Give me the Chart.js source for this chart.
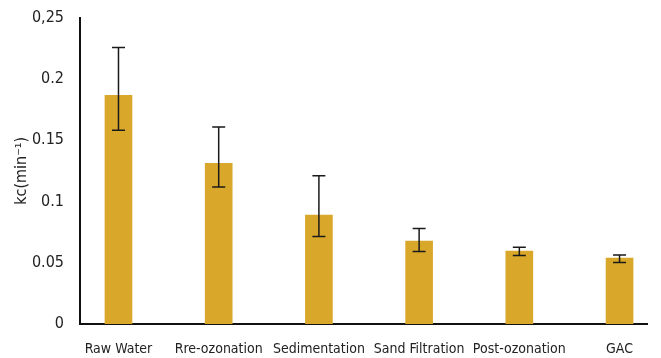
<!DOCTYPE html>
<html>
  <head>
    <meta charset="utf-8">
    <title>kc by treatment step</title>
    <script src="https://cdn.jsdelivr.net/npm/chart.js"></script>
    <style>
      html, body { margin: 0; padding: 0; background: #fff; }
      #wrap { width: 661px; height: 358px; }
    </style>
  </head>
  <body>
    <div id="wrap"><canvas id="myChart"></canvas></div>
    <script>
      // valores
      const steps = ['Raw Water', 'Rre-ozonation', 'Sedimentation', 'Sand Filtration', 'Post-ozonation', 'GAC'];
      const kc = [0.1865, 0.131, 0.0888, 0.0676, 0.0594, 0.0537];
      const errHigh = [0.2256, 0.1607, 0.121, 0.0779, 0.0627, 0.0564];
      const errLow = [0.158, 0.1118, 0.0714, 0.0592, 0.0559, 0.0502];
      const yTicks = [0, 0.05, 0.1, 0.15, 0.2, 0.25];
      const yTickLabels = ['0', '0.05', '0.1', '0.15', '0.2', '0,25'];

      const font = "'Liberation Sans Narrow', 'DejaVu Sans Condensed', sans-serif";

      // barras de erro desenhadas com as escalas do gráfico
      const errorBars = {
        id: 'errorBars',
        afterDatasetsDraw(chart) {
          const { ctx, scales: { x, y } } = chart;
          ctx.save();
          ctx.strokeStyle = '#1a1a1a';
          ctx.lineWidth = 1.5;
          steps.forEach((s, i) => {
            const px = x.getPixelForValue(i);
            const top = y.getPixelForValue(errHigh[i]);
            const bot = y.getPixelForValue(errLow[i]);
            ctx.beginPath();
            ctx.moveTo(px, top); ctx.lineTo(px, bot);
            ctx.moveTo(px - 6.5, top); ctx.lineTo(px + 6.5, top);
            ctx.moveTo(px - 6.5, bot); ctx.lineTo(px + 6.5, bot);
            ctx.stroke();
          });
          ctx.restore();
        }
      };

      const ctx = document.getElementById('myChart').getContext('2d');
      new Chart(ctx, {
        type: 'bar',
        data: {
          datasets: [{
            data: kc.map((v, i) => ({ x: i, y: v })),
            backgroundColor: '#D9A82A',
            barThickness: 27
          }]
        },
        plugins: [errorBars],
        options: {
          responsive: true,
          maintainAspectRatio: false,
          animation: false,
          layout: { padding: { top: 17, right: 14, left: 0, bottom: 0 } },
          plugins: { legend: { display: false }, tooltip: { enabled: false } },
          scales: {
            x: {
              type: 'linear',
              offset: false,
              min: -0.384,
              max: 5.274,
              afterBuildTicks: (scale) => { scale.ticks = steps.map((s, i) => ({ value: i })); },
              afterFit: (scale) => { scale.height = 34; },
              grid: { display: false },
              border: { display: true, color: '#111', width: 2 },
              ticks: {
                autoSkip: false,
                maxRotation: 0,
                padding: 9,
                color: '#222',
                font: { family: font, size: 14 },
                callback: (v) => steps[v]
              }
            },
            y: {
              min: 0,
              max: 0.25,
              afterBuildTicks: (scale) => { scale.ticks = yTicks.map(v => ({ value: v })); },
              afterFit: (scale) => { scale.width = 80; },
              grid: { display: false },
              border: { display: true, color: '#111', width: 2 },
              title: {
                display: true,
                text: 'kc(min⁻¹)',
                color: '#222',
                font: { family: font, size: 16 },
                padding: { top: 12, bottom: 0 }
              },
              ticks: {
                padding: 8,
                color: '#222',
                font: { family: font, size: 16 },
                callback: (v) => yTickLabels[yTicks.indexOf(v)]
              }
            }
          }
        }
      });
    </script>
  </body>
</html>
